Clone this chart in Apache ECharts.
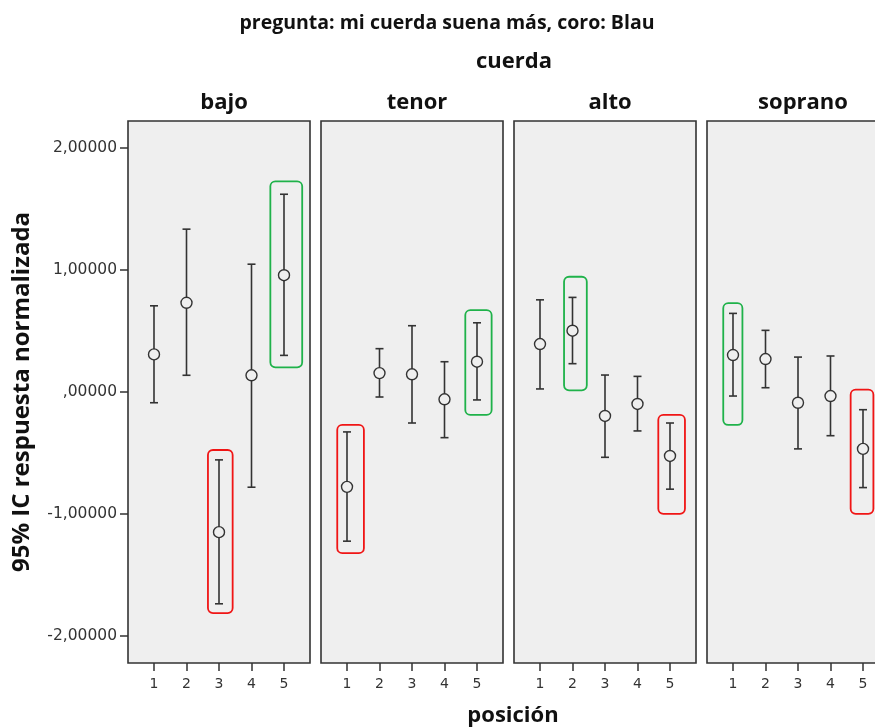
<!DOCTYPE html>
<html>
<head>
<meta charset="utf-8">
<script src="https://cdn.jsdelivr.net/npm/echarts@6/dist/echarts.min.js"></script>
<style>
  html, body { margin: 0; padding: 0; background: #fff; overflow: hidden; width: 875px; height: 727px; }
  #chart { width: 960px; height: 727px; }
</style>
</head>
<body>
<div id="chart"></div>
<script>
// Cuerdas (paneles) y posiciones en el eje X
const cuerdas = ['bajo', 'tenor', 'alto', 'soprano'];
const posiciones = [1, 2, 3, 4, 5];
const marcasY = [-2, -1, 0, 1, 2];

// Media y límites del IC 95% por cuerda
const bajoMedia     = [0.308, 0.731, -1.148, 0.137, 0.957];
const bajoInferior  = [-0.088, 0.137, -1.735, -0.780, 0.300];
const bajoSuperior  = [0.706, 1.334, -0.556, 1.047, 1.620];

const tenorMedia    = [-0.777, 0.155, 0.145, -0.060, 0.248];
const tenorInferior = [-1.222, -0.041, -0.254, -0.374, -0.065];
const tenorSuperior = [-0.327, 0.355, 0.543, 0.248, 0.567];

const altoMedia     = [0.393, 0.502, -0.196, -0.098, -0.524];
const altoInferior  = [0.025, 0.232, -0.535, -0.319, -0.796];
const altoSuperior  = [0.755, 0.775, 0.139, 0.128, -0.254];

const sopranoMedia    = [0.303, 0.270, -0.088, -0.033, -0.466];
const sopranoInferior = [-0.033, 0.035, -0.466, -0.358, -0.783];
const sopranoSuperior = [0.644, 0.505, 0.286, 0.295, -0.145];

// Recuadros de resaltado: panel, x izquierda, x derecha, y superior, y inferior, color
const marcoPanel   = [0, 0, 1, 1, 2, 2, 3, 3];
const marcoXIzq    = [4.58, 2.66, 0.70, 4.64, 1.74, 4.64, 0.70, 4.62];
const marcoXDer    = [5.56, 3.42, 1.52, 5.45, 2.44, 5.46, 1.29, 5.32];
const marcoYSup    = [1.726, -0.475, -0.270, 0.671, 0.944, -0.188, 0.728, 0.019];
const marcoYInf    = [0.202, -1.811, -1.320, -0.188, 0.014, -0.998, -0.270, -0.998];
const marcoTipo    = ['verde', 'rojo', 'rojo', 'verde', 'verde', 'rojo', 'verde', 'rojo'];

const medias     = [bajoMedia, tenorMedia, altoMedia, sopranoMedia];
const inferiores = [bajoInferior, tenorInferior, altoInferior, sopranoInferior];
const superiores = [bajoSuperior, tenorSuperior, altoSuperior, sopranoSuperior];

const colorMarco = { verde: '#1fb24a', rojo: '#f01515' };
const tinta = '#333333';
const fondoPanel = '#efefef';
const fuenteTitulo = 'Open Sans, Liberation Sans, sans-serif';
const fuenteEje = 'DejaVu Sans, sans-serif';

const panelIzq = 128, panelAncho = 182, panelPaso = 193, panelArriba = 121, panelAlto = 542;

function etiquetaY(v) {
  if (v === 0) return ',00000';
  return (v < 0 ? '-' : '') + Math.abs(v) + ',00000';
}

const grids = [], xAxes = [], yAxes = [], series = [], titles = [];

titles.push({
  text: 'pregunta: mi cuerda suena más, coro: Blau',
  left: 442, top: 8, textAlign: 'center',
  textStyle: { fontFamily: fuenteTitulo, fontWeight: 'bold', fontSize: 19.5, color: '#111' }
});
titles.push({
  text: 'cuerda',
  left: 509, top: 46, textAlign: 'center',
  textStyle: { fontFamily: fuenteTitulo, fontWeight: 'bold', fontSize: 22, color: '#111' }
});
titles.push({
  text: 'posición',
  left: 508, top: 700, textAlign: 'center',
  textStyle: { fontFamily: fuenteTitulo, fontWeight: 'bold', fontSize: 22, color: '#111' }
});

cuerdas.forEach(function (nombre, i) {
  const izq = panelIzq + i * panelPaso;
  grids.push({
    left: izq, top: panelArriba, width: panelAncho, height: panelAlto,
    show: true, backgroundColor: fondoPanel, borderColor: '#333333', borderWidth: 1.6,
    containLabel: false
  });
  titles.push({
    text: nombre,
    left: izq + panelAncho / 2, top: 87, textAlign: 'center',
    textStyle: { fontFamily: fuenteTitulo, fontWeight: 'bold', fontSize: 22, color: '#111' }
  });
  xAxes.push({
    gridIndex: i, type: 'value', min: 0.2, max: 5.8,
    axisLine: { show: false, onZero: false },
    splitLine: { show: false },
    axisTick: { show: true, length: 8, customValues: posiciones, lineStyle: { color: tinta, width: 1.5 } },
    axisLabel: { customValues: posiciones, margin: 14, fontFamily: fuenteEje, fontSize: 14, color: tinta }
  });
  yAxes.push({
    gridIndex: i, type: 'value', min: -2.22, max: 2.22,
    axisLine: { show: false, onZero: false },
    splitLine: { show: false },
    axisTick: { show: i === 0, length: 8, customValues: marcasY, lineStyle: { color: tinta, width: 1.5 } },
    axisLabel: {
      show: i === 0, customValues: marcasY, margin: 11,
      fontFamily: fuenteEje, fontSize: 15.5, color: tinta,
      formatter: etiquetaY
    }
  });

  const filas = posiciones.map(function (p, k) {
    return [p, medias[i][k], inferiores[i][k], superiores[i][k]];
  });

  // Barras de error con remates horizontales
  series.push({
    type: 'custom', xAxisIndex: i, yAxisIndex: i, z: 2,
    data: filas,
    encode: { x: 0, y: [2, 3] },
    renderItem: function (params, api) {
      const x = api.value(0);
      const pInf = api.coord([x, api.value(2)]);
      const pSup = api.coord([x, api.value(3)]);
      const semi = 4;
      const estilo = { stroke: tinta, lineWidth: 1.6, fill: null };
      return {
        type: 'group',
        children: [
          { type: 'line', shape: { x1: pInf[0], y1: pInf[1], x2: pSup[0], y2: pSup[1] }, style: estilo },
          { type: 'line', shape: { x1: pSup[0] - semi, y1: pSup[1], x2: pSup[0] + semi, y2: pSup[1] }, style: estilo },
          { type: 'line', shape: { x1: pInf[0] - semi, y1: pInf[1], x2: pInf[0] + semi, y2: pInf[1] }, style: estilo }
        ]
      };
    }
  });

  // Medias como círculos vacíos
  series.push({
    type: 'scatter', xAxisIndex: i, yAxisIndex: i, z: 3,
    data: filas.map(function (f) { return [f[0], f[1]]; }),
    symbol: 'circle', symbolSize: 11,
    itemStyle: { color: fondoPanel, borderColor: tinta, borderWidth: 1.4, opacity: 1 }
  });

  // Recuadros de resaltado del panel
  const marcos = [];
  marcoPanel.forEach(function (p, m) {
    if (p === i) marcos.push([marcoXIzq[m], marcoXDer[m], marcoYSup[m], marcoYInf[m], marcoTipo[m]]);
  });
  series.push({
    type: 'custom', xAxisIndex: i, yAxisIndex: i, z: 4,
    data: marcos,
    encode: { x: [0, 1], y: [2, 3] },
    renderItem: function (params, api) {
      const a = api.coord([api.value(0), api.value(2)]);
      const b = api.coord([api.value(1), api.value(3)]);
      const tipo = marcos[params.dataIndex][4];
      return {
        type: 'rect',
        shape: { x: a[0], y: a[1], width: b[0] - a[0], height: b[1] - a[1], r: 5 },
        style: { stroke: colorMarco[tipo], lineWidth: 1.8, fill: null }
      };
    }
  });
});

const chart = echarts.init(document.getElementById('chart'), null, { renderer: 'canvas' });
chart.setOption({
  animation: false,
  backgroundColor: '#ffffff',
  title: titles,
  grid: grids,
  xAxis: xAxes,
  yAxis: yAxes,
  series: series,
  graphic: [{
    type: 'text',
    x: 22, y: 392, rotation: Math.PI / 2,
    style: {
      text: '95% IC respuesta normalizada',
      fontFamily: fuenteTitulo, fontWeight: 'bold', fontSize: 24, fill: '#111',
      textAlign: 'center', textVerticalAlign: 'middle'
    }
  }]
});
</script>
</body>
</html>
